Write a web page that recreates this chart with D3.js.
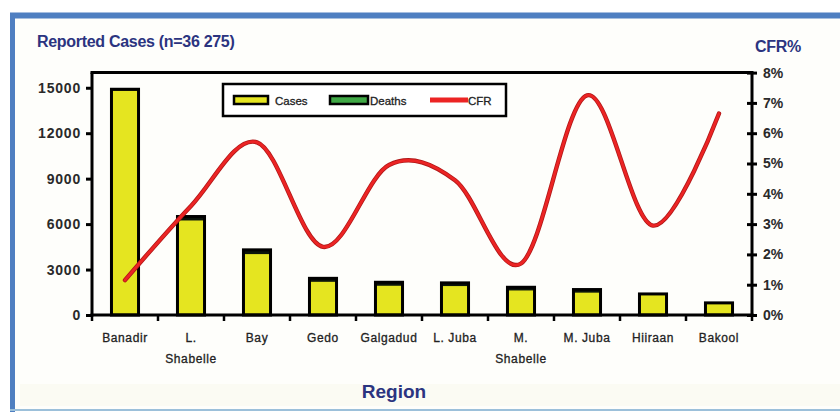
<!DOCTYPE html>
<html>
<head>
<meta charset="utf-8">
<script src="https://cdn.jsdelivr.net/npm/d3@7"></script>
<style>
  html, body { margin: 0; padding: 0; background: #ffffff; }
  svg { display: block; font-family: "Liberation Sans", Arial, sans-serif; }
</style>
</head>
<body>
<svg id="chart" width="840" height="414"></svg>
<script>
// Regions and reported figures
const regions = ["Banadir", "L. Shabelle", "Bay", "Gedo", "Galgadud", "L. Juba", "M. Shabelle", "M. Juba", "Hiiraan", "Bakool"];
const regionLabels = [["Banadir"], ["L.", "Shabelle"], ["Bay"], ["Gedo"], ["Galgadud"], ["L. Juba"], ["M.", "Shabelle"], ["M. Juba"], ["Hiiraan"], ["Bakool"]];
const cases  = [14800, 6240, 4020, 2190, 1930, 1910, 1620, 1475, 1330, 760];
const deaths = [100, 260, 280, 230, 230, 210, 210, 205, 60, 40];
const cfr    = [1.15, 3.6, 5.7, 2.25, 4.95, 4.45, 1.7, 7.25, 2.95, 6.65];
const leftTicks  = [0, 3000, 6000, 9000, 12000, 15000];
const rightTicks = [0, 1, 2, 3, 4, 5, 6, 7, 8];

const svg = d3.select("#chart");
const navy = "#2b3480";

// Outer panel with blue frame
svg.append("rect").attr("x", 13).attr("y", 15).attr("width", 840).attr("height", 394)
  .attr("fill", "#fefefb").attr("stroke", "none");
svg.append("rect").attr("x", 20).attr("y", 384).attr("width", 820).attr("height", 22)
  .attr("fill", "#fbfbf3");
svg.append("line").attr("x1", 10).attr("x2", 840).attr("y1", 15.5).attr("y2", 15.5)
  .attr("stroke", "#4f7fc1").attr("stroke-width", 6);
svg.append("line").attr("x1", 12.5).attr("x2", 12.5).attr("y1", 13).attr("y2", 412)
  .attr("stroke", "#4f7fc1").attr("stroke-width", 5);
svg.append("line").attr("x1", 10).attr("x2", 840).attr("y1", 410).attr("y2", 410)
  .attr("stroke", "#9cc0da").attr("stroke-width", 2);

const plot = { left: 92, right: 752, top: 72.6, bottom: 315 };

const x = d3.scaleBand().domain(regions).range([plot.left, plot.right]).padding(0);
const yL = d3.scaleLinear().domain([0, 16000]).range([plot.bottom, plot.top]);
const yR = d3.scaleLinear().domain([0, 8]).range([plot.bottom, plot.top]);

// Titles
svg.append("text").attr("x", 37).attr("y", 47).attr("fill", navy)
  .attr("font-size", 16).attr("font-weight", "bold").attr("letter-spacing", "-0.3")
  .text("Reported Cases (n=36 275)");
svg.append("text").attr("x", 755).attr("y", 52).attr("fill", navy)
  .attr("font-size", 16).attr("font-weight", "bold").attr("letter-spacing", "-0.3")
  .text("CFR%");
svg.append("text").attr("x", 394).attr("y", 398).attr("fill", navy)
  .attr("text-anchor", "middle").attr("font-size", 19).attr("font-weight", "bold")
  .text("Region");

// Stacked bars: cases with deaths on top
const barW = x.bandwidth() * 0.41;
const bars = svg.append("g");
regions.forEach((r, i) => {
  const cx = x(r) + x.bandwidth() / 2;
  const total = cases[i] + deaths[i];
  bars.append("rect")
    .attr("x", cx - barW / 2).attr("width", barW)
    .attr("y", yL(total)).attr("height", yL(0) - yL(total))
    .attr("fill", "#e5e520");
  bars.append("rect")
    .attr("x", cx - barW / 2).attr("width", barW)
    .attr("y", yL(total)).attr("height", yL(cases[i]) - yL(total))
    .attr("fill", "#0b140b");
  bars.append("rect")
    .attr("x", cx - barW / 2).attr("width", barW)
    .attr("y", yL(total)).attr("height", yL(0) - yL(total))
    .attr("fill", "none").attr("stroke", "#000").attr("stroke-width", 3);
});

// CFR smoothed line
const line = d3.line()
  .x((d, i) => x(regions[i]) + x.bandwidth() / 2)
  .y(d => yR(d))
  .curve(d3.curveCatmullRom.alpha(0));
svg.append("path").datum(cfr).attr("d", line)
  .attr("fill", "none").attr("stroke", "#b01818").attr("stroke-width", 4.4)
  .attr("stroke-linecap", "round");
svg.append("path").datum(cfr).attr("d", line)
  .attr("fill", "none").attr("stroke", "#ec2424").attr("stroke-width", 2.8)
  .attr("stroke-linecap", "round");

// Plot frame
svg.append("line").attr("x1", plot.left - 1.5).attr("x2", plot.right + 1.5)
  .attr("y1", plot.top).attr("y2", plot.top).attr("stroke", "#000").attr("stroke-width", 3);

// Left axis
const axL = svg.append("g").attr("transform", `translate(${plot.left},0)`)
  .call(d3.axisLeft(yL).tickValues(leftTicks).tickSize(6).tickPadding(5).tickFormat(d3.format("d")));
axL.select(".domain").attr("stroke-width", 3).attr("d", `M0,${plot.top}V${plot.bottom + 1.5}`);
axL.selectAll(".tick line").attr("stroke-width", 3);
axL.selectAll(".tick text").attr("font-size", 14).attr("font-weight", "bold")
  .attr("letter-spacing", "0.8").attr("fill", "#2a2a2a")
  .attr("font-family", "Liberation Sans, Arial, sans-serif");

// Right axis
const axR = svg.append("g").attr("transform", `translate(${plot.right},0)`)
  .call(d3.axisRight(yR).tickValues(rightTicks).tickSize(5).tickPadding(6).tickFormat(d => d + "%"));
axR.select(".domain").attr("stroke-width", 3).attr("d", `M0,${plot.top}V${plot.bottom + 1.5}`);
axR.selectAll(".tick line").attr("stroke-width", 3).attr("x1", -5);
axR.selectAll(".tick text").attr("font-size", 14).attr("font-weight", "bold")
  .attr("fill", "#2a2a2a").attr("font-family", "Liberation Sans, Arial, sans-serif");

// Bottom axis with ticks between categories
const axB = svg.append("g").attr("transform", `translate(0,${plot.bottom})`);
axB.append("line").attr("x1", plot.left - 1.5).attr("x2", plot.right + 1.5)
  .attr("y1", 0).attr("y2", 0).attr("stroke", "#000").attr("stroke-width", 3);
regions.forEach((r, i) => {
  const bx = x(r);
  axB.append("line").attr("x1", bx).attr("x2", bx).attr("y1", 0).attr("y2", 6)
    .attr("stroke", "#000").attr("stroke-width", 2.5);
});
axB.append("line").attr("x1", plot.right).attr("x2", plot.right).attr("y1", 0).attr("y2", 6)
  .attr("stroke", "#000").attr("stroke-width", 2.5);
regionLabels.forEach((lines, i) => {
  const cx = x(regions[i]) + x.bandwidth() / 2;
  const t = axB.append("text").attr("x", cx).attr("y", 27).attr("text-anchor", "middle")
    .attr("font-size", 12).attr("fill", "#222").attr("letter-spacing", "0.6")
    .attr("stroke", "#222").attr("stroke-width", 0.3);
  lines.forEach((s, k) => {
    t.append("tspan").attr("x", cx).attr("dy", k === 0 ? 0 : 21).text(s);
  });
});

// Legend
const lg = svg.append("g");
lg.append("rect").attr("x", 223).attr("y", 84).attr("width", 283).attr("height", 32)
  .attr("fill", "#fff").attr("stroke", "#000").attr("stroke-width", 2.5);
lg.append("rect").attr("x", 234).attr("y", 96).attr("width", 34).attr("height", 8)
  .attr("fill", "#e5e520").attr("stroke", "#000").attr("stroke-width", 2.5);
lg.append("text").attr("x", 275).attr("y", 105).attr("font-size", 11.5)
  .attr("stroke", "#222").attr("stroke-width", 0.3)
  .attr("fill", "#222").text("Cases");
lg.append("rect").attr("x", 330).attr("y", 96).attr("width", 38).attr("height", 8)
  .attr("fill", "#3fa845").attr("stroke", "#000").attr("stroke-width", 2.5);
lg.append("text").attr("x", 370).attr("y", 105).attr("font-size", 11.5)
  .attr("stroke", "#222").attr("stroke-width", 0.3)
  .attr("fill", "#222").text("Deaths");
lg.append("line").attr("x1", 430).attr("x2", 468).attr("y1", 100).attr("y2", 100)
  .attr("stroke", "#ec2424").attr("stroke-width", 5);
lg.append("text").attr("x", 468).attr("y", 105).attr("font-size", 11.5)
  .attr("stroke", "#222").attr("stroke-width", 0.3)
  .attr("fill", "#222").text("CFR");
</script>
</body>
</html>
